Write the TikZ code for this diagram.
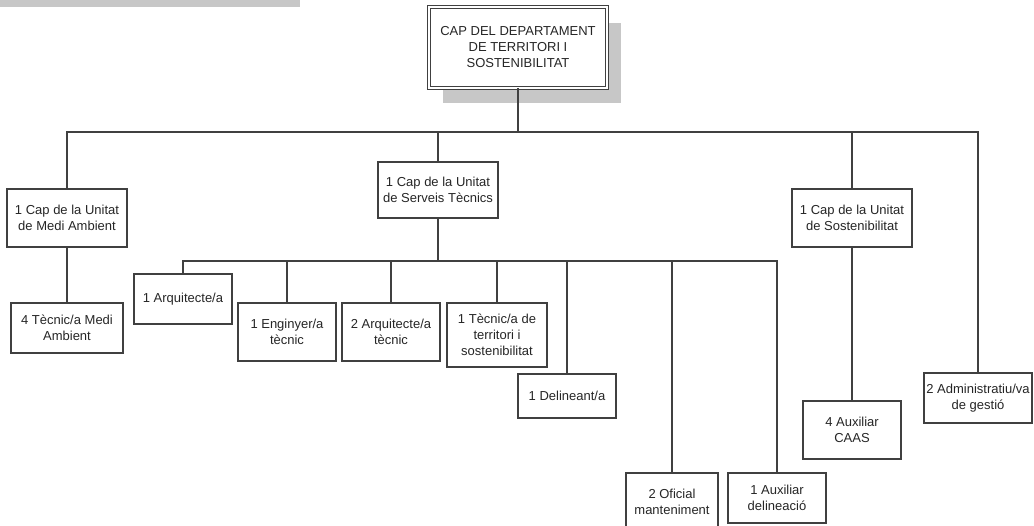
\documentclass[tikz,border=0pt]{standalone}
\usepackage{fontspec}
\setmainfont{Liberation Sans}
\usetikzlibrary{shadows}

\begin{document}
\begin{tikzpicture}[x=1pt, y=-1pt, line width=2pt, draw=black!75,
	unitat/.style={draw=black!75, rectangle, fill=white, align=center, inner sep=0pt, text=black!85,
		font=\fontsize{13}{16}\selectfont},
	capbox/.style={unitat, double, double distance=2pt, line width=1.2pt,
		drop shadow={shadow xshift=14pt, shadow yshift=-15.5pt, fill=black!22, opacity=1}}]
	\useasboundingbox (0,0) rectangle (1034,526);
	\fill [black!22] (0,0) rectangle (300,7);
	\node [capbox, minimum width=177.6, minimum height=80.6] (dept) at (518,47.5) {CAP DEL DEPARTAMENT\\DE TERRITORI I\\SOSTENIBILITAT};
	\node [unitat, minimum width=120, minimum height=58] (medi) at (67,218) {1 Cap de la Unitat\\de Medi Ambient};
	\node [unitat, minimum width=112, minimum height=50] (tecmedi) at (67,328) {4 Tècnic/a Medi\\Ambient};
	\node [unitat, minimum width=120, minimum height=56] (serveis) at (438,190) {1 Cap de la Unitat\\de Serveis Tècnics};
	\node [unitat, minimum width=120, minimum height=58] (sost) at (852,218) {1 Cap de la Unitat\\de Sostenibilitat};
	\node [unitat, minimum width=98, minimum height=50] (arq) at (183,299) {1 Arquitecte/a};
	\node [unitat, minimum width=98, minimum height=58] (eng) at (287,332) {1 Enginyer/a\\tècnic};
	\node [unitat, minimum width=98, minimum height=58] (arqtec) at (391,332) {2 Arquitecte/a\\tècnic};
	\node [unitat, minimum width=100, minimum height=64] (tecterr) at (497,335) {1 Tècnic/a de\\territori i\\sostenibilitat};
	\node [unitat, minimum width=98, minimum height=44] (delin) at (567,396) {1 Delineant/a};
	\node [unitat, minimum width=92, minimum height=58] (oficial) at (672,502) {2 Oficial\\manteniment};
	\node [unitat, minimum width=98, minimum height=50] (auxdel) at (777,498) {1 Auxiliar\\delineació};
	\node [unitat, minimum width=98, minimum height=58] (caas) at (852,430) {4 Auxiliar\\CAAS};
	\node [unitat, minimum width=108, minimum height=50] (admin) at (978,398) {2 Administratiu/va\\de gestió};
	\coordinate (bus1) at (518,132);
	\coordinate (bus2) at (438,261);
	\draw (dept) -- (bus1);
	\draw (medi) |- (bus1) -| (admin);
	\draw (serveis) -- (serveis |- bus1);
	\draw (sost) -- (sost |- bus1);
	\draw (medi) -- (tecmedi);
	\draw (sost) -- (caas);
	\draw (serveis) -- (bus2);
	\draw (arq) |- (bus2) -| (auxdel);
	\foreach \n in {eng,arqtec,tecterr,delin,oficial}
		\draw (\n) -- (\n |- bus2);
\end{tikzpicture}
\end{document}
